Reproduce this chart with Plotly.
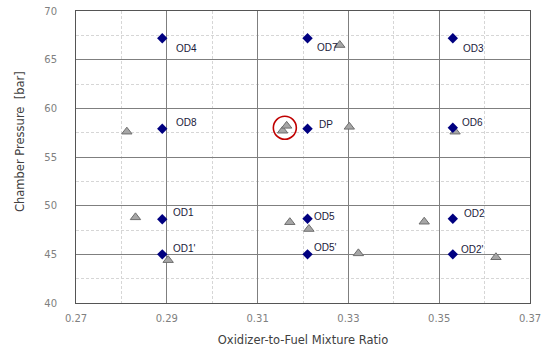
import plotly.graph_objects as go

# Design points (diamonds)
design_labels = ["OD4", "OD7", "OD3", "OD8", "DP", "OD6", "OD1", "OD5", "OD2", "OD1'", "OD5'", "OD2'"]
design_of = [0.289, 0.321, 0.353, 0.289, 0.321, 0.353, 0.289, 0.321, 0.353, 0.289, 0.321, 0.353]
design_pc = [67.2, 67.2, 67.2, 57.9, 57.9, 58.0, 48.6, 48.65, 48.65, 45.0, 45.0, 45.0]

# Test results (triangles)
test_of = [0.3281, 0.2812, 0.3155, 0.3164, 0.3302, 0.3535, 0.2831, 0.2903, 0.3171, 0.3213, 0.3322, 0.3467, 0.3625]
test_pc = [66.5, 57.6, 57.7, 58.2, 58.1, 57.6, 48.8, 44.4, 48.3, 47.6, 45.1, 48.35, 44.7]

# Highlighted point (red circle)
highlight_of = [0.3160]
highlight_pc = [58.0]

x_ticks = [0.27, 0.29, 0.31, 0.33, 0.35, 0.37]
y_ticks = [40, 45, 50, 55, 60, 65, 70]

# label offsets in pixels (style only)
label_dx = [12, 7, 8, 12, 9, 7, 9, 4, 9, 9, 4, 6]
label_dy = [-10, -9, -10, 6, 4, 5, 7, 2, 5, 6, 7, 5]

fig = go.Figure()

fig.add_trace(go.Scatter(
    x=test_of, y=test_pc, mode="markers",
    marker=dict(symbol="triangle-up", size=9, color="#A6A6A6",
                line=dict(color="#6E6E6E", width=1)),
    showlegend=False, hoverinfo="skip", cliponaxis=False))

fig.add_trace(go.Scatter(
    x=design_of, y=design_pc, mode="markers",
    marker=dict(symbol="diamond", size=8, color="#000080",
                line=dict(color="#000080", width=0)),
    showlegend=False, hoverinfo="skip"))

fig.add_trace(go.Scatter(
    x=highlight_of, y=highlight_pc, mode="markers",
    marker=dict(symbol="circle-open", size=23, color="#C00000",
                line=dict(color="#C00000", width=1.6)),
    showlegend=False, hoverinfo="skip"))

for lab, xv, yv, dx, dy in zip(design_labels, design_of, design_pc, label_dx, label_dy):
    fig.add_annotation(x=xv, y=yv, text=lab, showarrow=False,
                       xanchor="left", yanchor="middle",
                       xshift=dx, yshift=dy,
                       font=dict(family="Liberation Sans", size=10, color="#1A1A3A"))

# y-axis title placed as an annotation to match the reference position
fig.add_annotation(xref="paper", yref="paper", x=0, y=0.5, xshift=-56, yshift=15,
                   text="Chamber Pressure  [bar]", textangle=-90, showarrow=False,
                   xanchor="center", yanchor="middle",
                   font=dict(family="DejaVu Sans", size=11.5, color="#404040"))

axis_common = dict(
    showline=True, linecolor="#555555", linewidth=1, mirror=True,
    showgrid=True, gridcolor="#7F7F7F", gridwidth=1,
    zeroline=False, ticks="", automargin=False,
    tickfont=dict(family="DejaVu Sans", size=10, color="#808080"),
    title_font=dict(family="DejaVu Sans", size=11.5, color="#404040"),
)

fig.update_xaxes(
    range=[0.27, 0.37], tickvals=x_ticks, ticktext=[f"{v:.2f}" for v in x_ticks],
    ticklabelstandoff=6,
    title_text="Oxidizer-to-Fuel Mixture Ratio", title_standoff=12,
    minor=dict(dtick=0.01, tick0=0.27, showgrid=True, gridcolor="#D6D6D6",
               griddash="3px,2px", gridwidth=1),
    **axis_common)
fig.update_yaxes(
    range=[40, 70], tickvals=y_ticks, ticklabelstandoff=16,
    minor=dict(dtick=2.5, tick0=40, showgrid=True, gridcolor="#D6D6D6",
               griddash="3px,2px", gridwidth=1),
    **axis_common)

fig.update_layout(
    width=551, height=347,
    margin=dict(l=76, r=21, t=11, b=44),
    paper_bgcolor="white", plot_bgcolor="white",
    showlegend=False,
)

fig.write_html(
    "out.html",
    config={"displayModeBar": False},
    post_script="document.body.style.margin='0';document.body.style.padding='0';"
                "document.body.style.overflow='hidden';",
)
